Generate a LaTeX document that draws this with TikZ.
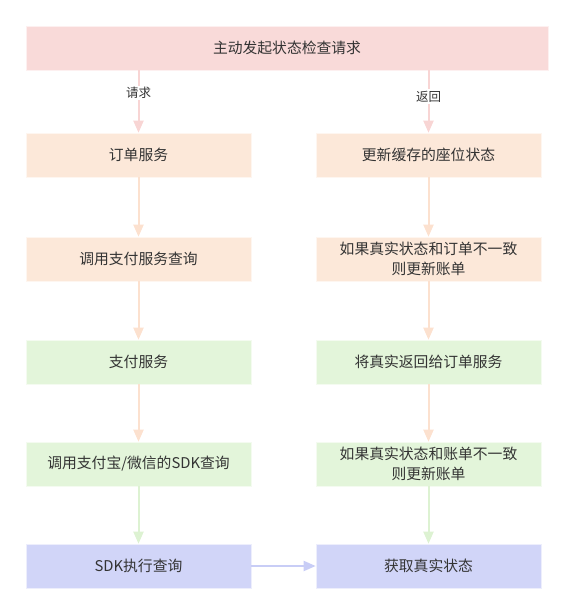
\documentclass[tikz,border=0pt]{standalone}
\usepackage{fontspec}
\setmainfont{Noto Sans CJK SC}
\usetikzlibrary{arrows.meta}
\definecolor{cpink}{HTML}{F9DAD9}
\definecolor{corange}{HTML}{FCE8D9}
\definecolor{cgreen}{HTML}{E3F5DA}
\definecolor{cblue}{HTML}{D1D5F8}
\definecolor{apink}{HTML}{F8D5D4}
\definecolor{aorange}{HTML}{FCE1CF}
\definecolor{agreen}{HTML}{DDF2D2}
\definecolor{ablue}{HTML}{C8CDF6}
\definecolor{txt}{HTML}{333333}
\begin{document}
\begin{tikzpicture}[x=1pt,y=-1pt,
  box/.style={draw=white!60!#1, line width=0.6pt, fill=#1, minimum height=44pt, inner sep=0pt,
    text=txt, font=\fontsize{14.8}{20}\selectfont, align=center},
  lbox/.style={box=#1, minimum width=225pt},
  arr/.style={draw=#1, line width=2pt, -{Triangle[width=10pt,length=12pt,fill=#1]}},
  lab/.style={fill=white, text=txt, font=\fontsize{12.5}{15}\selectfont, inner sep=1.5pt}]
\useasboundingbox (0,0) rectangle (573,614);
\node[box=cpink, minimum width=522pt] (top) at (287,48) {主动发起状态检查请求};
\node[lbox=corange] (l1) at (138.5,155) {订单服务};
\node[lbox=corange] (l2) at (138.5,259) {调用支付服务查询};
\node[lbox=cgreen] (l3) at (138.5,362) {支付服务};
\node[lbox=cgreen] (l4) at (138.5,464) {调用支付宝/微信的SDK查询};
\node[lbox=cblue] (l5) at (138.5,566) {SDK执行查询};
\node[lbox=corange] (r1) at (428.5,155) {更新缓存的座位状态};
\node[lbox=corange] (r2) at (428.5,259) {如果真实状态和订单不一致\\则更新账单};
\node[lbox=cgreen] (r3) at (428.5,362) {将真实返回给订单服务};
\node[lbox=cgreen] (r4) at (428.5,464) {如果真实状态和账单不一致\\则更新账单};
\node[lbox=cblue] (r5) at (428.5,566) {获取真实状态};
\draw[arr=apink] (top.south -| l1) -- node[lab, pos=0.36] {请求} (l1);
\draw[arr=apink] (top.south -| r1) -- node[lab, pos=0.42] {返回} (r1);
\draw[arr=aorange] (l1) -- (l2);
\draw[arr=aorange] (l2) -- (l3);
\draw[arr=aorange] (l3) -- (l4);
\draw[arr=agreen] (l4) -- (l5);
\draw[arr=aorange] (r1) -- (r2);
\draw[arr=aorange] (r2) -- (r3);
\draw[arr=aorange] (r3) -- (r4);
\draw[arr=agreen] (r4) -- (r5);
\draw[arr=ablue] (l5) -- (r5);
\end{tikzpicture}
\end{document}
